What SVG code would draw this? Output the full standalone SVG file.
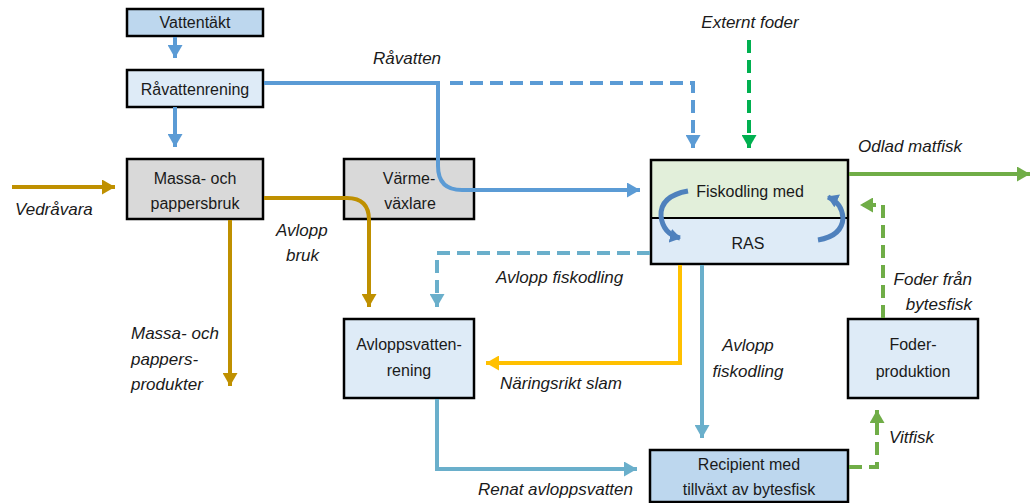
<svg xmlns="http://www.w3.org/2000/svg" width="1032" height="503" viewBox="0 0 1032 503">
<style>
.box{stroke:#000;stroke-width:2.5}
.t{font-family:"Liberation Sans",Arial,sans-serif;font-size:16px;fill:#1a1a1a;text-anchor:middle}
.l{font-family:"Liberation Sans",Arial,sans-serif;font-size:17px;font-style:italic;fill:#1a1a1a}
.c{fill:none;stroke-width:4}
.blue{stroke:#5B9BD5}
.gold{stroke:#BF9000}
.yel{stroke:#FFC000}
.teal{stroke:#6AAFCB}
.grn{stroke:#70AD47}
.bgrn{stroke:#00B050}
.dash{stroke-dasharray:13 7}
</style>
<defs>
<marker id="aBlue" markerUnits="userSpaceOnUse" markerWidth="15" markerHeight="15" refX="13" refY="7.5" orient="auto"><path d="M0,0 L13,7.5 L0,15 z" fill="#5B9BD5"/></marker>
<marker id="aGold" markerUnits="userSpaceOnUse" markerWidth="15" markerHeight="15" refX="13" refY="7.5" orient="auto"><path d="M0,0 L13,7.5 L0,15 z" fill="#BF9000"/></marker>
<marker id="aYel" markerUnits="userSpaceOnUse" markerWidth="15" markerHeight="15" refX="13" refY="7.5" orient="auto"><path d="M0,0 L13,7.5 L0,15 z" fill="#FFC000"/></marker>
<marker id="aTeal" markerUnits="userSpaceOnUse" markerWidth="15" markerHeight="15" refX="13" refY="7.5" orient="auto"><path d="M0,0 L13,7.5 L0,15 z" fill="#6AAFCB"/></marker>
<marker id="aGrn" markerUnits="userSpaceOnUse" markerWidth="15" markerHeight="15" refX="13" refY="7.5" orient="auto"><path d="M0,0 L13,7.5 L0,15 z" fill="#70AD47"/></marker>
<marker id="aBgrn" markerUnits="userSpaceOnUse" markerWidth="15" markerHeight="15" refX="13" refY="7.5" orient="auto"><path d="M0,0 L13,7.5 L0,15 z" fill="#00B050"/></marker>
<marker id="aRas" markerUnits="userSpaceOnUse" markerWidth="14" markerHeight="14" refX="10" refY="7" orient="auto"><path d="M0,0 L11,7 L0,14 z" fill="#4F81BD"/></marker>
</defs>

<g id="vattentakt">
<rect class="box" x="127" y="9" width="136" height="27" fill="#BDD7EE"/>
<text class="t" x="195" y="28">Vattentäkt</text>
</g>
<g id="ravattenrening">
<rect class="box" x="127" y="70" width="136" height="37" fill="#DEEBF7"/>
<text class="t" x="195" y="95">Råvattenrening</text>
</g>
<g id="massa">
<rect class="box" x="127" y="159" width="136" height="60" fill="#D9D9D9"/>
<text class="t" x="195" y="184">Massa- och</text>
<text class="t" x="195" y="209">pappersbruk</text>
</g>
<g id="varmevaxlare">
<rect class="box" x="344" y="159" width="130" height="60" fill="#D9D9D9"/>
<text class="t" x="409" y="184">Värme-</text>
<text class="t" x="410" y="209">växlare</text>
</g>
<g id="fiskodling">
<rect x="651" y="160" width="197" height="58" fill="#E2EFDA"/>
<rect x="651" y="218" width="197" height="46" fill="#DEEBF7"/>
<rect class="box" x="651" y="160" width="197" height="104" fill="none"/>
<line x1="651" y1="218" x2="848" y2="218" stroke="#000" stroke-width="2"/>
<text class="t" x="750" y="197">Fiskodling med</text>
<text class="t" x="748" y="249">RAS</text>
<path d="M688,191 Q660,196 661,216 Q663,234 680,238" fill="none" stroke="#4F81BD" stroke-width="5" marker-end="url(#aRas)"/>
<path d="M818,240 Q842,236 843,218 Q842,203 828,197" fill="none" stroke="#4F81BD" stroke-width="5" marker-end="url(#aRas)"/>
</g>
<g id="avloppsvattenrening">
<rect class="box" x="344" y="319" width="130" height="79" fill="#DEEBF7"/>
<text class="t" x="409" y="350">Avloppsvatten-</text>
<text class="t" x="409" y="376">rening</text>
</g>
<g id="foderproduktion">
<rect class="box" x="848" y="319" width="130" height="79" fill="#DEEBF7"/>
<text class="t" x="913" y="350">Foder-</text>
<text class="t" x="913" y="377">produktion</text>
</g>
<g id="recipient">
<rect class="box" x="650" y="450" width="198" height="52" fill="#BDD7EE"/>
<text class="t" x="749" y="470">Recipient med</text>
<text class="t" x="749" y="495">tillväxt av bytesfisk</text>
</g>

<g id="connectors">
<path class="c blue" d="M175,37 V58" marker-end="url(#aBlue)"/>
<path class="c blue" d="M175,107 V147" marker-end="url(#aBlue)"/>
<path class="c blue" d="M264,83 H438 V166 Q438,190 462,190 H640" marker-end="url(#aBlue)"/>
<path class="c blue dash" d="M450,83 H693 V148" marker-end="url(#aBlue)"/>
<path class="c bgrn dash" d="M749,40 V148" marker-end="url(#aBgrn)"/>
<path class="c grn" d="M849,174 H1030" marker-end="url(#aGrn)"/>
<path class="c grn dash" d="M883,318 V205 H860" marker-end="url(#aGrn)"/>
<path class="c grn dash" d="M849,467 H877 V410" marker-end="url(#aGrn)"/>
<path class="c teal dash" d="M650,253 H437 V307" marker-end="url(#aTeal)"/>
<path class="c teal" d="M702,265 V438" marker-end="url(#aTeal)"/>
<path class="c yel" d="M680,265 V363 H486" marker-end="url(#aYel)"/>
<path class="c teal" d="M437,399 V469 H637" marker-end="url(#aTeal)"/>
<path class="c gold" d="M12,187 H115" marker-end="url(#aGold)"/>
<path class="c gold" d="M230,220 V386" marker-end="url(#aGold)"/>
<path class="c gold" d="M264,198 H347 Q369,198 369,220 V307" marker-end="url(#aGold)"/>
</g>

<g id="labels">
<text class="l" x="373" y="64">Råvatten</text>
<text class="l" x="750" y="28" text-anchor="middle">Externt foder</text>
<text class="l" x="858" y="152">Odlad matfisk</text>
<text class="l" x="15" y="215">Vedråvara</text>
<text class="l" x="276" y="236">Avlopp</text>
<text class="l" x="286" y="261">bruk</text>
<text class="l" x="131" y="339">Massa- och</text>
<text class="l" x="131" y="365">pappers-</text>
<text class="l" x="131" y="390">produkter</text>
<text class="l" x="496" y="283">Avlopp fiskodling</text>
<text class="l" x="500" y="389">Näringsrikt slam</text>
<text class="l" x="748" y="351" text-anchor="middle">Avlopp</text>
<text class="l" x="748" y="377" text-anchor="middle">fiskodling</text>
<text class="l" x="972" y="285" text-anchor="end">Foder från</text>
<text class="l" x="972" y="310" text-anchor="end">bytesfisk</text>
<text class="l" x="889" y="443">Vitfisk</text>
<text class="l" x="478" y="495">Renat avloppsvatten</text>
</g>
</svg>
